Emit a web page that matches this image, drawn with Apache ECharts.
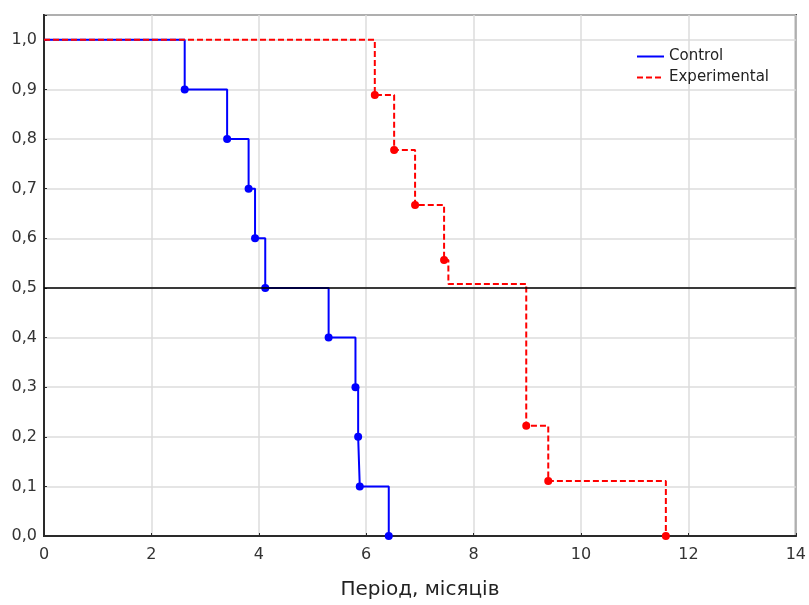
<!DOCTYPE html>
<html>
<head>
<meta charset="utf-8">
<script src="https://cdn.jsdelivr.net/npm/echarts@6/dist/echarts.min.js"></script>
<style>
  html, body { margin: 0; padding: 0; background: #fff; }
  #main { width: 809px; height: 605px; }
</style>
</head>
<body>
<div id="main"></div>
<script>
// дані кривих виживання (Kaplan-Meier)
const ctrlTime = [0, 2.62, 3.41, 3.81, 3.93, 4.12, 5.3, 5.8, 5.85, 5.88, 6.42];
const ctrlSurv = [1, 0.9, 0.8, 0.7, 0.6, 0.5, 0.4, 0.3, 0.2, 0.1, 0];
const ctrlMark = [0, 1, 1, 1, 1, 1, 1, 1, 1, 1, 1];

const expTime = [0, 6.16, 6.52, 6.91, 7.45, 7.53, 8.98, 9.39, 11.58];
const expSurv = [1, 0.889, 0.778, 0.667, 0.556, 0.508, 0.222, 0.111, 0];
const expMark = [0, 1, 1, 1, 1, 0, 1, 1, 1];

const seriesNames = ['Control', 'Experimental'];
const xTicks = [0, 2, 4, 6, 8, 10, 12, 14];
const medianLine = 0.5;

function buildData(times, surv, marks) {
    let out = [];
    times.forEach((t, i) => {
        let item = { value: [t, surv[i]] };
        if (!marks[i]) item.symbol = 'none';
        out.push(item);
    });
    return out;
}

let chart = echarts.init(document.getElementById('main'));

const fontName = 'DejaVu Sans';

const option = {
    animation: false,
    grid: {
        left: 44, right: 12, top: 15, bottom: 68,
        show: true,
        borderColor: '#2a2a2a',
        borderWidth: 2
    },
    legend: {
        orient: 'vertical',
        left: 631,
        top: 44,
        itemWidth: 27,
        itemHeight: 14,
        itemGap: 6,
        itemStyle: { opacity: 0 },
        textStyle: { fontFamily: fontName, fontSize: 15, color: '#222' },
        data: seriesNames
    },
    xAxis: {
        type: 'value',
        min: xTicks[0],
        max: xTicks[xTicks.length - 1],
        interval: 2,
        name: 'Період, місяців',
        nameLocation: 'middle',
        nameGap: 44,
        nameTextStyle: { fontFamily: fontName, fontSize: 20, color: '#222' },
        axisLine: { lineStyle: { color: '#2a2a2a', width: 2 } },
        axisTick: { inside: true, length: 3, lineStyle: { color: '#2a2a2a' } },
        axisLabel: { fontFamily: fontName, fontSize: 16, color: '#333', margin: 11 },
        splitLine: { show: true, lineStyle: { color: '#dcdcdc', width: 1.5 } }
    },
    yAxis: {
        type: 'value',
        min: 0,
        max: 1.05,
        interval: 0.1,
        axisLine: { show: true, lineStyle: { color: '#2a2a2a', width: 2 } },
        axisTick: { show: true, inside: true, length: 3, lineStyle: { color: '#2a2a2a' } },
        axisLabel: {
            fontFamily: fontName, fontSize: 16, color: '#333', margin: 7,
            formatter: v => v > 1.001 ? '' : v.toFixed(1).replace('.', ',')
        },
        splitLine: { show: true, lineStyle: { color: '#dcdcdc', width: 1.5 } }
    },
    series: [
        {
            name: seriesNames[0],
            type: 'line',
            step: 'end',
            symbol: 'circle',
            symbolSize: 8,
            showAllSymbol: true,
            color: '#0000ff',
            lineStyle: { color: '#0000ff', width: 2 },
            data: buildData(ctrlTime, ctrlSurv, ctrlMark),
            markLine: {
                silent: true,
                symbol: 'none',
                label: { show: false },
                lineStyle: { color: '#000', width: 1.5, type: 'solid' },
                data: [{ yAxis: medianLine }]
            }
        },
        {
            name: seriesNames[1],
            type: 'line',
            step: 'end',
            symbol: 'circle',
            symbolSize: 8,
            showAllSymbol: true,
            color: '#ff0000',
            lineStyle: { color: '#ff0000', width: 2, type: [6, 3] },
            data: buildData(expTime, expSurv, expMark)
        }
    ]
};

chart.setOption(option);
</script>
</body>
</html>
